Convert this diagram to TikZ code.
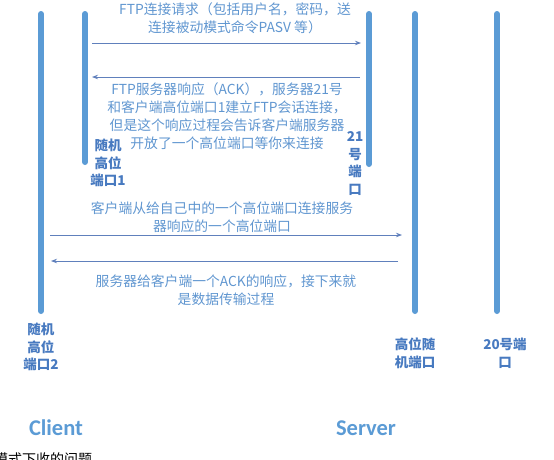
\documentclass[tikz,border=0pt]{standalone}
\usepackage{fontspec}
\setmainfont{Noto Sans CJK SC}
\newfontfamily\latinfont{Carlito}
\usetikzlibrary{arrows.meta}
\definecolor{lifeblue}{RGB}{91,155,213}
\definecolor{msgblue}{RGB}{96,128,188}
\definecolor{txtblue}{RGB}{96,150,208}
\definecolor{portblue}{RGB}{72,122,192}

\begin{document}
\begin{tikzpicture}[x=1pt,y=-1pt,
    lifeline/.style={lifeblue, line width=6pt, line cap=round},
    msg/.style={msgblue, line width=0.8pt, -{Stealth[length=6pt,width=4.5pt]}},
    msgtext/.style={txtblue, font=\fontsize{13.8}{18}\selectfont, align=center, inner sep=0pt},
    portlabel/.style={portblue, font=\bfseries\fontsize{13.5}{17.8}\selectfont, align=center, inner sep=0pt},
    sidename/.style={lifeblue, font=\latinfont\bfseries\fontsize{22.5}{26}\selectfont, inner sep=0pt}]
    \useasboundingbox (0,0) rectangle (554,459);

    % Client lifelines
    \coordinate (clitop) at (41,14);  \coordinate (clibot) at (41,311);
    \coordinate (hi1top) at (85,14);  \coordinate (hi1bot) at (85,162);
    \draw[lifeline] (clitop) -- (clibot);
    \draw[lifeline] (hi1top) -- (hi1bot);
    % Server lifelines
    \coordinate (p21top) at (369,14); \coordinate (p21bot) at (369,164);
    \coordinate (hisTop) at (415,14); \coordinate (hisBot) at (415,311);
    \coordinate (p20top) at (497,14); \coordinate (p20bot) at (497,311);
    \draw[lifeline] (p21top) -- (p21bot);
    \draw[lifeline] (hisTop) -- (hisBot);
    \draw[lifeline] (p20top) -- (p20bot);

    % Messages
    \coordinate (m1s) at (92,43);   \coordinate (m1e) at (361,43);
    \coordinate (m2s) at (360,77);  \coordinate (m2e) at (92,77);
    \coordinate (m3s) at (50,235);  \coordinate (m3e) at (402,235);
    \coordinate (m4s) at (398,261); \coordinate (m4e) at (51,261);
    \draw[msg] (m1s) -- (m1e);
    \draw[msg] (m2s) -- (m2e);
    \draw[msg] (m3s) -- (m3e);
    \draw[msg] (m4s) -- (m4e);

    \node[msgtext] (t1) at (235,18.5) {FTP连接请求（包括用户名，密码，送\\连接被动模式命令PASV 等）};
    \node[msgtext] (t2) at (227,116) {FTP服务器响应（ACK），服务器21号\\和客户端高位端口1建立FTP会话连接，\\但是这个响应过程会告诉客户端服务器\\开放了一个高位端口等你来连接};
    \node[msgtext] (t3) at (222,217) {客户端从给自己中的一个高位端口连接服务\\器响应的一个高位端口};
    \node[msgtext] (t4) at (226,290.5) {服务器给客户端一个ACK的响应，接下来就\\是数据传输过程};

    % Port labels
    \node[portlabel] (lhi1) at (108,163) {随机\\高位\\端口1};
    \node[portlabel] (l21) at (355,163.5) {21\\号\\端\\口};
    \node[portlabel] (lhi2) at (41,347) {随机\\高位\\端口2};
    \node[portlabel] (lhis) at (415,353.5) {高位随\\机端口};
    \node[portlabel] (l20) at (505,353.5) {20号端\\口};

    \node[sidename] (client) at (56,428) {Client};
    \node[sidename] (server) at (366,428) {Server};

    % caption cut off by the page edge
    \node[anchor=west, inner sep=0pt, font=\fontsize{14}{16}\selectfont] (cap) at (-6,459) {模式下收的问题};
\end{tikzpicture}
\end{document}
